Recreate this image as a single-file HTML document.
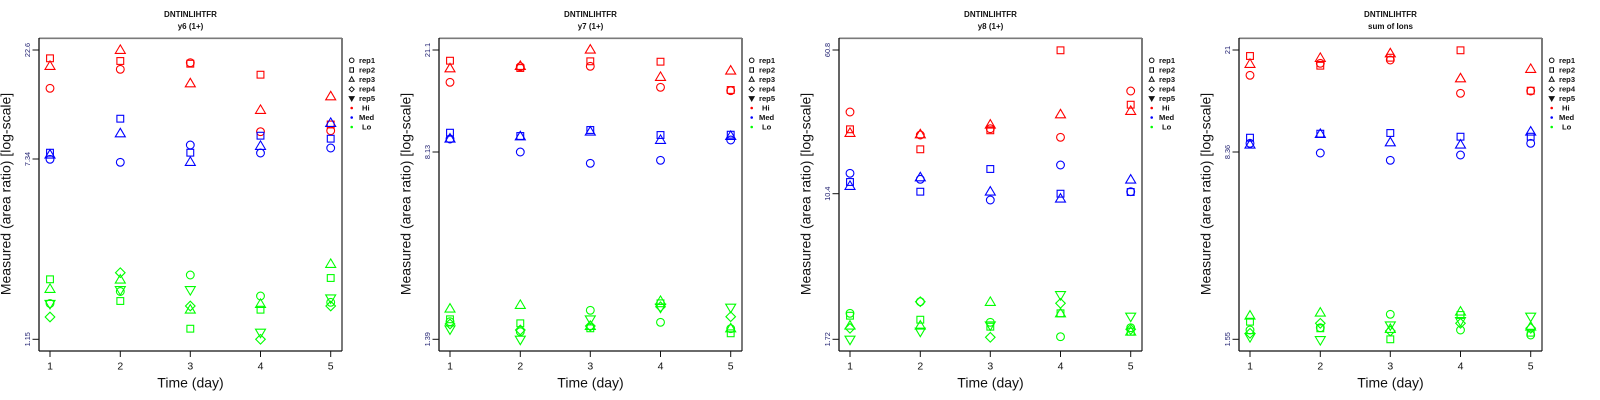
<!DOCTYPE html>
<html><head><meta charset="utf-8"><style>
html,body{margin:0;padding:0;background:#fff;}
svg{display:block;font-family:"Liberation Sans",Arial,sans-serif;}
</style></head><body>
<svg width="1600" height="400" viewBox="0 0 1600 400" xmlns="http://www.w3.org/2000/svg">
<defs>
<circle id="c" cx="0" cy="0" r="3.9" fill="none"/>
<rect id="s" x="-3.4" y="-3.4" width="6.8" height="6.8" fill="none"/>
<polygon id="t" points="0,-4.4 5,4.1 -5,4.1" fill="none"/>
<polygon id="d" points="0,-4.8 4.8,0 0,4.8 -4.8,0" fill="none"/>
<polygon id="v" points="0,4.4 5,-4.1 -5,-4.1" fill="none"/>
<g id="frame">
<line x1="39" y1="38.3" x2="342" y2="38.3" stroke="#7a7a7a" stroke-width="1.6"/>
<line x1="342" y1="38" x2="342" y2="351" stroke="#7a7a7a" stroke-width="2"/>
<line x1="39" y1="38" x2="39" y2="351" stroke="#111" stroke-width="1.3"/>
<line x1="39" y1="351" x2="342" y2="351" stroke="#111" stroke-width="1.3"/>
<g stroke="#111" stroke-width="1">
<line x1="50" y1="351" x2="50" y2="357"/>
<line x1="120.3" y1="351" x2="120.3" y2="357"/>
<line x1="190.3" y1="351" x2="190.3" y2="357"/>
<line x1="260.5" y1="351" x2="260.5" y2="357"/>
<line x1="330.7" y1="351" x2="330.7" y2="357"/>
</g>
<g font-size="10.5" fill="#111" text-anchor="middle">
<text x="50" y="369.5">1</text>
<text x="120.3" y="369.5">2</text>
<text x="190.3" y="369.5">3</text>
<text x="260.5" y="369.5">4</text>
<text x="330.7" y="369.5">5</text>
</g>
<text x="190.5" y="387.5" font-size="14" fill="#111" text-anchor="middle">Time (day)</text>
<text transform="translate(10.5,194) rotate(-90)" font-size="14" fill="#111" text-anchor="middle">Measured (area ratio) [log-scale]</text>
<text x="190.5" y="16.8" font-size="8" font-weight="bold" fill="#111" text-anchor="middle">DNTINLIHTFR</text>
<g stroke="#111" stroke-width="1" fill="none">
<circle cx="351.7" cy="60.3" r="2.3"/>
<rect x="349.9" y="67.8" width="3.6" height="4.4"/>
<polygon points="351.7,76.8 354.2,81.3 349.2,81.3"/>
<polygon points="351.7,86.8 354.2,89.3 351.7,91.8 349.2,89.3"/>
<polygon points="351.7,101 354.2,96.6 349.2,96.6" fill="#111"/>
</g>
<circle cx="351.7" cy="108" r="1.3" fill="#ff0000"/>
<circle cx="351.7" cy="117.5" r="1.3" fill="#0000ff"/>
<circle cx="351.7" cy="127" r="1.3" fill="#00ff00"/>
<g font-size="7.6" font-weight="bold" fill="#111">
<text x="359" y="63">rep1</text>
<text x="359" y="72.5">rep2</text>
<text x="359" y="82">rep3</text>
<text x="359" y="91.5">rep4</text>
<text x="359" y="101">rep5</text>
<text x="362" y="110.5">Hi</text>
<text x="359" y="120">Med</text>
<text x="362" y="129.5">Lo</text>
</g>
<g stroke="#111" stroke-width="1">
<line x1="32.5" y1="50" x2="39" y2="50"/>
<line x1="32.5" y1="339.3" x2="39" y2="339.3"/>
</g>
</g>
</defs>

<!-- Panel 1 -->
<g transform="translate(0,0)">
<use href="#frame"/>
<line x1="32.5" y1="159" x2="39" y2="159" stroke="#111"/>
<g font-size="7.3" fill="#202070" text-anchor="middle">
<text transform="translate(30,50) rotate(-90)">22.6</text>
<text transform="translate(30,159) rotate(-90)">7.34</text>
<text transform="translate(30,339.3) rotate(-90)">1.15</text>
</g>
<text x="190.5" y="29" font-size="8" font-weight="bold" fill="#111" text-anchor="middle">y6 (1+)</text>
<g stroke="#ff0000" stroke-width="1.1">
<use href="#s" x="50" y="58.3"/><use href="#t" x="50" y="65.3"/><use href="#c" x="50" y="88.3"/>
<use href="#t" x="120.3" y="49.3"/><use href="#s" x="120.3" y="61"/><use href="#c" x="120.3" y="69.3"/>
<use href="#c" x="190.3" y="62.7"/><use href="#s" x="190.3" y="63.7"/><use href="#t" x="190.3" y="82.7"/>
<use href="#s" x="260.5" y="74.7"/><use href="#t" x="260.5" y="109.3"/><use href="#c" x="260.5" y="131.7"/>
<use href="#t" x="330.7" y="95.7"/><use href="#s" x="330.7" y="124.5"/><use href="#c" x="330.7" y="130.7"/>
</g>
<g stroke="#0000ff" stroke-width="1.1">
<use href="#s" x="50" y="152.7"/><use href="#t" x="50" y="154"/><use href="#c" x="50" y="159.3"/>
<use href="#s" x="120.3" y="118.7"/><use href="#t" x="120.3" y="132.7"/><use href="#c" x="120.3" y="162.3"/>
<use href="#c" x="190.3" y="145"/><use href="#s" x="190.3" y="152.7"/><use href="#t" x="190.3" y="161.3"/>
<use href="#s" x="260.5" y="135.7"/><use href="#t" x="260.5" y="145.3"/><use href="#c" x="260.5" y="153"/>
<use href="#t" x="330.7" y="122.3"/><use href="#s" x="330.7" y="138.7"/><use href="#c" x="330.7" y="148"/>
</g>
<g stroke="#00ff00" stroke-width="1.1">
<use href="#s" x="50" y="279.3"/><use href="#t" x="50" y="288.3"/><use href="#c" x="50" y="303.5"/><use href="#v" x="50" y="304.5"/><use href="#d" x="50" y="317"/>
<use href="#d" x="120.3" y="272.7"/><use href="#t" x="120.3" y="279"/><use href="#v" x="120.3" y="290.7"/><use href="#c" x="120.3" y="291.5"/><use href="#s" x="120.3" y="301"/>
<use href="#c" x="190.3" y="275"/><use href="#v" x="190.3" y="290.7"/><use href="#d" x="190.3" y="306"/><use href="#t" x="190.3" y="309"/><use href="#s" x="190.3" y="328.7"/>
<use href="#c" x="260.5" y="296"/><use href="#t" x="260.5" y="303.3"/><use href="#s" x="260.5" y="309.7"/><use href="#v" x="260.5" y="333.3"/><use href="#d" x="260.5" y="339.3"/>
<use href="#t" x="330.7" y="263.3"/><use href="#s" x="330.7" y="278"/><use href="#v" x="330.7" y="299"/><use href="#c" x="330.7" y="302.3"/><use href="#d" x="330.7" y="306"/>
</g>
</g>

<!-- Panel 2 -->
<g transform="translate(400,0)">
<use href="#frame"/>
<line x1="32.5" y1="152" x2="39" y2="152" stroke="#111"/>
<g font-size="7.3" fill="#202070" text-anchor="middle">
<text transform="translate(30,50) rotate(-90)">21.1</text>
<text transform="translate(30,152) rotate(-90)">8.13</text>
<text transform="translate(30,339.3) rotate(-90)">1.39</text>
</g>
<text x="190.5" y="29" font-size="8" font-weight="bold" fill="#111" text-anchor="middle">y7 (1+)</text>
<g stroke="#ff0000" stroke-width="1.1">
<use href="#s" x="50" y="60.7"/><use href="#t" x="50" y="67.7"/><use href="#c" x="50" y="82.3"/>
<use href="#t" x="120.3" y="65.3"/><use href="#c" x="120.3" y="66.7"/><use href="#s" x="120.3" y="68"/>
<use href="#t" x="190.3" y="49"/><use href="#s" x="190.3" y="61.3"/><use href="#c" x="190.3" y="66.3"/>
<use href="#s" x="260.5" y="61.7"/><use href="#t" x="260.5" y="76.3"/><use href="#c" x="260.5" y="87.3"/>
<use href="#t" x="330.7" y="70"/><use href="#s" x="330.7" y="90"/><use href="#c" x="330.7" y="90.7"/>
</g>
<g stroke="#0000ff" stroke-width="1.1">
<use href="#s" x="50" y="132.7"/><use href="#t" x="50" y="138"/><use href="#c" x="50" y="139"/>
<use href="#t" x="120.3" y="135.7"/><use href="#s" x="120.3" y="136"/><use href="#c" x="120.3" y="152"/>
<use href="#s" x="190.3" y="130"/><use href="#t" x="190.3" y="131"/><use href="#c" x="190.3" y="163.3"/>
<use href="#s" x="260.5" y="135"/><use href="#t" x="260.5" y="139.3"/><use href="#c" x="260.5" y="160.3"/>
<use href="#s" x="330.7" y="134.7"/><use href="#t" x="330.7" y="135.3"/><use href="#c" x="330.7" y="140"/>
</g>
<g stroke="#00ff00" stroke-width="1.1">
<use href="#t" x="50" y="308"/><use href="#s" x="50" y="319.3"/><use href="#c" x="50" y="321.7"/><use href="#d" x="50" y="324"/><use href="#v" x="50" y="330"/>
<use href="#t" x="120.3" y="304.3"/><use href="#s" x="120.3" y="323.3"/><use href="#d" x="120.3" y="330"/><use href="#c" x="120.3" y="331.7"/><use href="#v" x="120.3" y="340.3"/>
<use href="#c" x="190.3" y="310.3"/><use href="#v" x="190.3" y="320"/><use href="#t" x="190.3" y="325.3"/><use href="#d" x="190.3" y="326"/><use href="#s" x="190.3" y="328.3"/>
<use href="#t" x="260.5" y="300.3"/><use href="#s" x="260.5" y="303.3"/><use href="#d" x="260.5" y="306.7"/><use href="#v" x="260.5" y="308.3"/><use href="#c" x="260.5" y="322.3"/>
<use href="#v" x="330.7" y="308.3"/><use href="#d" x="330.7" y="316.7"/><use href="#t" x="330.7" y="327.7"/><use href="#c" x="330.7" y="328.7"/><use href="#s" x="330.7" y="333.3"/>
</g>
</g>

<!-- Panel 3 -->
<g transform="translate(800,0)">
<use href="#frame"/>
<line x1="32.5" y1="193.7" x2="39" y2="193.7" stroke="#111"/>
<g font-size="7.3" fill="#202070" text-anchor="middle">
<text transform="translate(30,50) rotate(-90)">60.8</text>
<text transform="translate(30,193.7) rotate(-90)">10.4</text>
<text transform="translate(30,339.3) rotate(-90)">1.72</text>
</g>
<text x="190.5" y="29" font-size="8" font-weight="bold" fill="#111" text-anchor="middle">y8 (1+)</text>
<g stroke="#ff0000" stroke-width="1.1">
<use href="#c" x="50" y="112"/><use href="#s" x="50" y="129.3"/><use href="#t" x="50" y="132.3"/>
<use href="#t" x="120.3" y="133.7"/><use href="#c" x="120.3" y="135"/><use href="#s" x="120.3" y="149.3"/>
<use href="#t" x="190.3" y="124"/><use href="#c" x="190.3" y="128.7"/><use href="#s" x="190.3" y="130.3"/>
<use href="#s" x="260.5" y="50.3"/><use href="#t" x="260.5" y="113.7"/><use href="#c" x="260.5" y="137.3"/>
<use href="#c" x="330.7" y="91"/><use href="#s" x="330.7" y="104.7"/><use href="#t" x="330.7" y="110.3"/>
</g>
<g stroke="#0000ff" stroke-width="1.1">
<use href="#c" x="50" y="173.3"/><use href="#s" x="50" y="182"/><use href="#t" x="50" y="185.3"/>
<use href="#t" x="120.3" y="176.7"/><use href="#c" x="120.3" y="179.3"/><use href="#s" x="120.3" y="191.7"/>
<use href="#s" x="190.3" y="169"/><use href="#t" x="190.3" y="191"/><use href="#c" x="190.3" y="200"/>
<use href="#c" x="260.5" y="165"/><use href="#s" x="260.5" y="193.7"/><use href="#t" x="260.5" y="198"/>
<use href="#t" x="330.7" y="179"/><use href="#s" x="330.7" y="192"/><use href="#c" x="330.7" y="191.7"/>
</g>
<g stroke="#00ff00" stroke-width="1.1">
<use href="#c" x="50" y="313.3"/><use href="#s" x="50" y="315.7"/><use href="#t" x="50" y="325"/><use href="#d" x="50" y="328.3"/><use href="#v" x="50" y="340.3"/>
<use href="#c" x="120.3" y="301.7"/><use href="#d" x="120.3" y="301.7"/><use href="#s" x="120.3" y="319.7"/><use href="#t" x="120.3" y="325"/><use href="#v" x="120.3" y="332.3"/>
<use href="#t" x="190.3" y="301.3"/><use href="#c" x="190.3" y="322.3"/><use href="#v" x="190.3" y="326"/><use href="#s" x="190.3" y="326.7"/><use href="#d" x="190.3" y="337.3"/>
<use href="#v" x="260.5" y="295.7"/><use href="#d" x="260.5" y="303.3"/><use href="#t" x="260.5" y="312.7"/><use href="#s" x="260.5" y="313.3"/><use href="#c" x="260.5" y="336.7"/>
<use href="#v" x="330.7" y="317.3"/><use href="#c" x="330.7" y="327.7"/><use href="#d" x="330.7" y="329.3"/><use href="#t" x="330.7" y="331"/><use href="#s" x="330.7" y="331.7"/>
</g>
</g>

<!-- Panel 4 -->
<g transform="translate(1200,0)">
<use href="#frame"/>
<line x1="32.5" y1="152" x2="39" y2="152" stroke="#111"/>
<g font-size="7.3" fill="#202070" text-anchor="middle">
<text transform="translate(30,50) rotate(-90)">21</text>
<text transform="translate(30,152) rotate(-90)">8.36</text>
<text transform="translate(30,339.3) rotate(-90)">1.55</text>
</g>
<text x="190.5" y="29" font-size="8" font-weight="bold" fill="#111" text-anchor="middle">sum of Ions</text>
<g stroke="#ff0000" stroke-width="1.1">
<use href="#s" x="50" y="56"/><use href="#t" x="50" y="63.3"/><use href="#c" x="50" y="75.3"/>
<use href="#t" x="120.3" y="57.3"/><use href="#c" x="120.3" y="63.3"/><use href="#s" x="120.3" y="65.7"/>
<use href="#t" x="190.3" y="52.7"/><use href="#s" x="190.3" y="57.7"/><use href="#c" x="190.3" y="60"/>
<use href="#s" x="260.5" y="50.3"/><use href="#t" x="260.5" y="77.7"/><use href="#c" x="260.5" y="93.3"/>
<use href="#t" x="330.7" y="68.3"/><use href="#s" x="330.7" y="90.7"/><use href="#c" x="330.7" y="91"/>
</g>
<g stroke="#0000ff" stroke-width="1.1">
<use href="#s" x="50" y="137.7"/><use href="#t" x="50" y="144"/><use href="#c" x="50" y="143.3"/>
<use href="#t" x="120.3" y="133.3"/><use href="#s" x="120.3" y="133.7"/><use href="#c" x="120.3" y="153"/>
<use href="#s" x="190.3" y="133"/><use href="#t" x="190.3" y="141.7"/><use href="#c" x="190.3" y="160.3"/>
<use href="#s" x="260.5" y="136.7"/><use href="#t" x="260.5" y="144"/><use href="#c" x="260.5" y="155"/>
<use href="#t" x="330.7" y="131"/><use href="#s" x="330.7" y="136.7"/><use href="#c" x="330.7" y="143.3"/>
</g>
<g stroke="#00ff00" stroke-width="1.1">
<use href="#t" x="50" y="315"/><use href="#s" x="50" y="321.7"/><use href="#c" x="50" y="330"/><use href="#d" x="50" y="333.3"/><use href="#v" x="50" y="337.7"/>
<use href="#t" x="120.3" y="312"/><use href="#d" x="120.3" y="323.3"/><use href="#c" x="120.3" y="327.7"/><use href="#s" x="120.3" y="328.3"/><use href="#v" x="120.3" y="340.7"/>
<use href="#c" x="190.3" y="314.3"/><use href="#v" x="190.3" y="326"/><use href="#t" x="190.3" y="328.3"/><use href="#d" x="190.3" y="331"/><use href="#s" x="190.3" y="339.3"/>
<use href="#t" x="260.5" y="311"/><use href="#s" x="260.5" y="315"/><use href="#v" x="260.5" y="321.7"/><use href="#d" x="260.5" y="323.3"/><use href="#c" x="260.5" y="330"/>
<use href="#v" x="330.7" y="317.3"/><use href="#t" x="330.7" y="326"/><use href="#d" x="330.7" y="328.3"/><use href="#s" x="330.7" y="332.7"/><use href="#c" x="330.7" y="335"/>
</g>
</g>
</svg>
</body></html>
